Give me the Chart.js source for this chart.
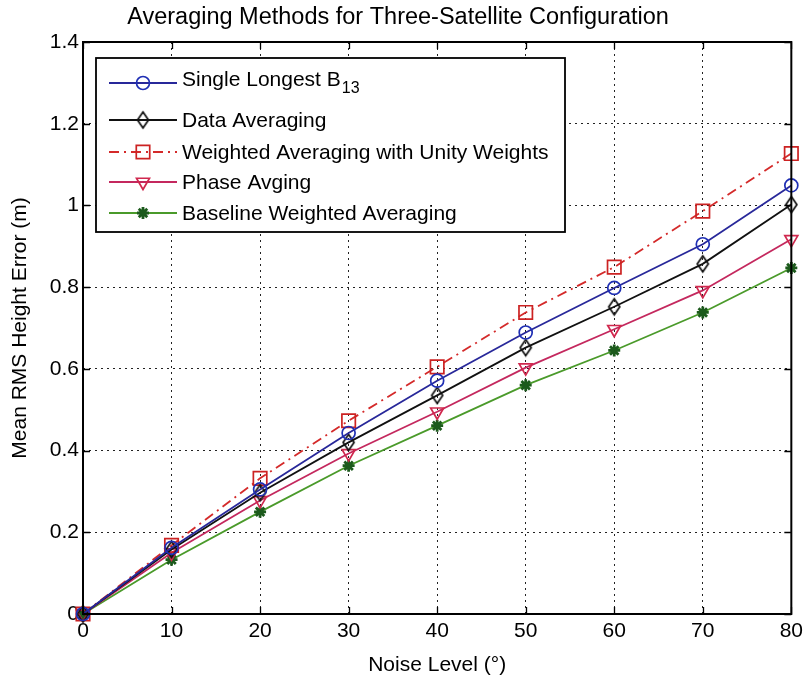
<!DOCTYPE html>
<html><head><meta charset="utf-8">
<script src="https://cdn.jsdelivr.net/npm/chart.js@4/dist/chart.umd.min.js"></script>
<style>html,body{margin:0;padding:0;background:#fff}#wrap{width:808px;height:684px}</style>
</head><body><div id="wrap"><canvas id="c" width="808" height="684"></canvas></div>
<script>
// ---- data ----
const noiseLevels = [0, 10, 20, 30, 40, 50, 60, 70, 80];
const singleLongest = [0, 0.162, 0.305, 0.443, 0.571, 0.689, 0.798, 0.905, 1.049];
const dataAveraging = [0, 0.158, 0.297, 0.420, 0.535, 0.652, 0.752, 0.857, 1.002];
const weightedUnity = [0, 0.168, 0.332, 0.473, 0.605, 0.738, 0.849, 0.986, 1.127];
const phaseAvging = [0, 0.150, 0.278, 0.393, 0.495, 0.603, 0.697, 0.792, 0.917];
const baselineWeighted = [0, 0.133, 0.250, 0.363, 0.461, 0.560, 0.645, 0.738, 0.847];
const seriesLabels = ['Single Longest B_{13}', 'Data Averaging', 'Weighted Averaging with Unity Weights', 'Phase Avging', 'Baseline Weighted Averaging'];
const xTicks = [0, 10, 20, 30, 40, 50, 60, 70, 80];
const yTicks = [0, 0.2, 0.4, 0.6, 0.8, 1.0, 1.2, 1.4];
const chartTitle = 'Averaging Methods for Three-Satellite Configuration';
const xLabel = 'Noise Level (\u00B0)';
const yLabel = 'Mean RMS Height Error (m)';

const FONT = '"Liberation Sans", Arial, sans-serif';
const pts = ys => noiseLevels.map((x, i) => ({x, y: ys[i]}));

// tall diamond marker (MATLAB style)
function makeDiamond(color, w, h, lw) {
  const c = document.createElement('canvas');
  c.width = w + 4; c.height = h + 4;
  const g = c.getContext('2d');
  g.strokeStyle = color; g.lineWidth = lw;
  const cx = c.width / 2, cy = c.height / 2;
  g.beginPath();
  g.moveTo(cx, cy - h / 2); g.lineTo(cx + w / 2, cy); g.lineTo(cx, cy + h / 2); g.lineTo(cx - w / 2, cy); g.closePath();
  g.stroke();
  return c;
}
const diamond = makeDiamond('#111', 11, 16, 1.7);

const datasets = [
  {label: seriesLabels[0], data: pts(singleLongest), borderColor: '#28289a', pointBorderColor: '#1f2fb4',
   pointStyle: 'circle', pointRadius: 6.5, pointRotation: 0},
  {label: seriesLabels[1], data: pts(dataAveraging), borderColor: '#111111', pointBorderColor: '#111111',
   pointStyle: diamond, pointRadius: 7, pointRotation: 0},
  {label: seriesLabels[2], data: pts(weightedUnity), borderColor: '#d42a2a', pointBorderColor: '#cc2222',
   pointStyle: 'rect', pointRadius: 9.5, pointRotation: 0, borderDash: [10, 5, 2, 5]},
  {label: seriesLabels[3], data: pts(phaseAvging), borderColor: '#c4285e', pointBorderColor: '#d0284e',
   pointStyle: 'triangle', pointRadius: 7.5, pointRotation: 180},
  {label: seriesLabels[4], data: pts(baselineWeighted), borderColor: '#4a9a2a', pointBorderColor: '#1c5a1c',
   pointStyle: 'star', pointRadius: 6, pointRotation: 0}
].map(d => Object.assign({
  borderWidth: 1.8, pointBorderWidth: 1.7, pointBackgroundColor: 'rgba(0,0,0,0)',
  pointHoverRadius: d.pointRadius, fill: false, tension: 0, clip: false
}, d));
datasets[4].pointBorderWidth = 2.8;

function drawMarker(ctx, ds, x, y) {
  ctx.save();
  ctx.setLineDash([]);
  ctx.strokeStyle = ds.pointBorderColor;
  ctx.fillStyle = 'rgba(0,0,0,0)';
  ctx.lineWidth = ds.pointBorderWidth;
  Chart.helpers.drawPoint(ctx, {pointStyle: ds.pointStyle, rotation: ds.pointRotation, radius: ds.pointRadius, borderWidth: ds.pointBorderWidth}, x, y);
  ctx.restore();
}

const axesPlugin = {
  id: 'mlAxes',
  afterDraw(chart) {
    const {ctx, chartArea: a} = chart;
    const xs = chart.scales.x, ys = chart.scales.y;
    ctx.save();
    ctx.setLineDash([]);
    ctx.strokeStyle = '#000';
    ctx.lineWidth = 1.3;
    const L = 7;
    ctx.beginPath();
    xs.ticks.forEach(t => {
      const px = Math.round(xs.getPixelForValue(t.value)) + 0.5;
      ctx.moveTo(px, a.bottom); ctx.lineTo(px, a.bottom - L);
      ctx.moveTo(px, a.top); ctx.lineTo(px, a.top + L);
    });
    ys.ticks.forEach(t => {
      const py = Math.round(ys.getPixelForValue(t.value)) + 0.5;
      ctx.moveTo(a.left, py); ctx.lineTo(a.left + L, py);
      ctx.moveTo(a.right, py); ctx.lineTo(a.right - L, py);
    });
    ctx.stroke();
    ctx.lineWidth = 2;
    ctx.strokeRect(a.left, a.top, a.right - a.left, a.bottom - a.top);

    // legend box
    const box = {left: 96, top: 58, right: 565, bottom: 232};
    ctx.fillStyle = '#fff';
    ctx.fillRect(box.left, box.top, box.right - box.left, box.bottom - box.top);
    ctx.lineWidth = 1.8;
    ctx.strokeStyle = '#000';
    ctx.strokeRect(box.left, box.top, box.right - box.left, box.bottom - box.top);
    const rowY = [83, 120, 152, 182, 213];
    chart.data.datasets.forEach((ds, i) => {
      const y = rowY[i];
      ctx.save();
      ctx.strokeStyle = ds.borderColor;
      ctx.lineWidth = ds.borderWidth;
      ctx.setLineDash(ds.borderDash || []);
      ctx.beginPath(); ctx.moveTo(109, y); ctx.lineTo(177, y); ctx.stroke();
      ctx.restore();
      drawMarker(ctx, ds, 143, y);
      ctx.fillStyle = '#000';
      ctx.textBaseline = 'middle';
      ctx.textAlign = 'left';
      ctx.font = '21px ' + FONT;
      const m = ds.label.match(/^(.*)_\{(.*)\}$/);
      if (m) {
        ctx.fillText(m[1], 182, y - 3);
        const w = ctx.measureText(m[1]).width;
        ctx.font = '16px ' + FONT;
        ctx.fillText(m[2], 182 + w + 1, y + 6);
      } else {
        ctx.fillText(ds.label, 182, y + 1);
      }
    });
    ctx.restore();
  }
};

new Chart(document.getElementById('c'), {
  type: 'line',
  data: {datasets},
  options: {
    responsive: false,
    animation: false,
    devicePixelRatio: 1,
    layout: {padding: {left: 0, right: 12, top: 0, bottom: 0}},
    plugins: {
      legend: {display: false},
      tooltip: {enabled: false},
      title: {display: true, text: chartTitle, color: '#000',
        font: {family: FONT, size: 23.5, weight: 'normal'}, padding: {top: 3, bottom: 10.8}}
    },
    scales: {
      x: {
        type: 'linear', min: 0, max: 80,
        afterBuildTicks: s => { s.ticks = xTicks.map(v => ({value: v})); },
        afterFit: s => { s.height = 70; },
        ticks: {color: '#000', font: {family: FONT, size: 21}, padding: 5, maxRotation: 0, autoSkip: false,
          callback: v => String(v)},
        grid: {color: '#222', lineWidth: 1, drawTicks: false},
        border: {display: false, dash: [2, 4]},
        title: {display: true, text: xLabel, color: '#000', font: {family: FONT, size: 21}, padding: {top: 0, bottom: 6}}
      },
      y: {
        type: 'linear', min: 0, max: 1.4,
        afterBuildTicks: s => { s.ticks = yTicks.map(v => ({value: v})); },
        afterFit: s => { s.width = 83; },
        ticks: {color: '#000', font: {family: FONT, size: 21}, padding: 4, autoSkip: false,
          callback: v => String(+(+v).toFixed(1))},
        grid: {color: '#222', lineWidth: 1, drawTicks: false},
        border: {display: false, dash: [2, 4]},
        title: {display: true, text: yLabel, color: '#000', font: {family: FONT, size: 21}, padding: {top: 8, bottom: 0}}
      }
    }
  },
  plugins: [axesPlugin]
});
</script>
</body></html>
